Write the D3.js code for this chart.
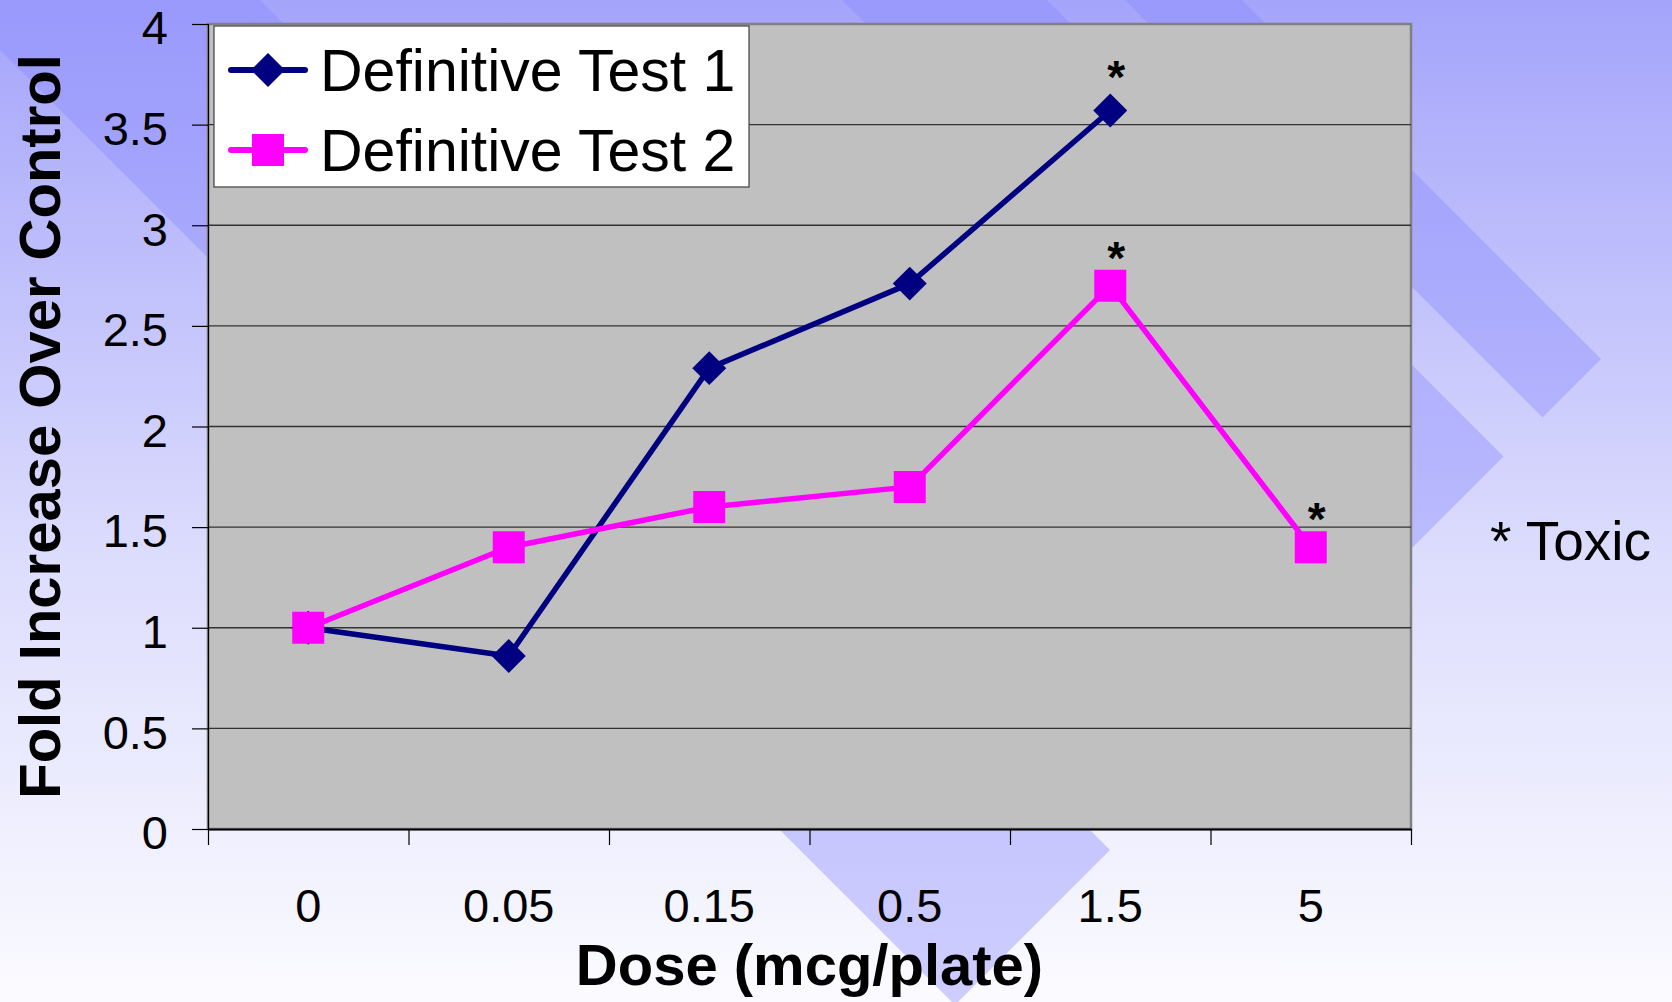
<!DOCTYPE html>
<html>
<head>
<meta charset="utf-8">
<script src="https://cdn.jsdelivr.net/npm/d3@7"></script>
<style>
  html, body { margin: 0; padding: 0; background: #fbfbff; }
  svg { display: block; }
  text { font-family: "Liberation Sans", Arial, Helvetica, sans-serif; fill: #000; }
</style>
</head>
<body>
<svg id="chart" width="1672" height="1002"></svg>
<script>
// Dose categories (mcg/plate)
const doses = ["0", "0.05", "0.15", "0.5", "1.5", "5"];
// Fold increase over control for each test (null = not tested)
const test1 = [1.0, 0.86, 2.29, 2.71, 3.57, null];
const test2 = [1.0, 1.4, 1.6, 1.7, 2.7, 1.4];
// Doses flagged as toxic in each test
const toxic1 = [false, false, false, false, true, false];
const toxic2 = [false, false, false, false, true, true];
const seriesNames = ["Definitive Test 1", "Definitive Test 2"];
const yTicks = [0, 0.5, 1, 1.5, 2, 2.5, 3, 3.5, 4];
const yTickLabels = ["0", "0.5", "1", "1.5", "2", "2.5", "3", "3.5", "4"];

const W = 1672, H = 1002;
const plot = { left: 208, right: 1411, top: 24, bottom: 829 };
const svg = d3.select("#chart");
const defs = svg.append("defs");

// ---- slide background: vertical periwinkle-to-white blend with diagonal bands ----
const grad = defs.append("linearGradient")
  .attr("id", "bg").attr("x1", 0).attr("y1", 0).attr("x2", 0).attr("y2", 1);
grad.append("stop").attr("offset", 0).attr("stop-color", "#a4a4fb");
grad.append("stop").attr("offset", 0.55).attr("stop-color", "#dcdcfd");
grad.append("stop").attr("offset", 1).attr("stop-color", "#fbfbff");
svg.append("rect").attr("width", W).attr("height", H).attr("fill", "url(#bg)");

// 45-degree bands (lines y - x = c) all cut off square along x + y = END
const END = 1960;
const bands = [[-260, 50], [-1047, -842], [-1242, -1125]];
svg.append("g").selectAll("polygon").data(bands).join("polygon")
  .attr("points", ([c1, c2]) => {
    const far = -2000;
    return [
      [far, far + c2],
      [(END - c2) / 2, (END + c2) / 2],
      [(END - c1) / 2, (END + c1) / 2],
      [far, far + c1]
    ].map(p => p.join(",")).join(" ");
  })
  .attr("fill", "#8a8aff")
  .attr("fill-opacity", 0.4);

// ---- scales ----
const x = d3.scaleBand().domain(doses).range([plot.left, plot.right]).padding(0);
const xc = d => x(d) + x.bandwidth() / 2;
const xEdge = d3.scaleLinear().domain([0, doses.length]).range([plot.left, plot.right]);
const y = d3.scaleLinear().domain([0, 4]).range([plot.bottom, plot.top]);

// ---- plot area ----
svg.append("rect")
  .attr("x", plot.left).attr("y", plot.top)
  .attr("width", plot.right - plot.left).attr("height", plot.bottom - plot.top)
  .attr("fill", "#c0c0c0")
  .attr("stroke", "#808080").attr("stroke-width", 2.5);

// horizontal gridlines
svg.append("g").selectAll("line").data(yTicks.filter(v => v > 0 && v < 4)).join("line")
  .attr("x1", plot.left).attr("x2", plot.right)
  .attr("y1", d => y(d)).attr("y2", d => y(d))
  .attr("stroke", "#333").attr("stroke-width", 1.4);

// y axis
const yAxis = svg.append("g")
  .attr("transform", `translate(${plot.left},0)`)
  .call(d3.axisLeft(y).tickValues(yTicks)
    .tickFormat((d, i) => yTickLabels[i])
    .tickSize(16).tickPadding(24));
yAxis.select(".domain").attr("stroke", "#000").attr("stroke-width", 1.2);
yAxis.selectAll(".tick line").attr("stroke", "#000").attr("stroke-width", 1.2);
yAxis.selectAll(".tick text")
  .attr("dy", "0.42em")
  .style("font-family", "'Liberation Sans', Arial, sans-serif")
  .style("font-size", "47px").attr("fill", "#000");

// x axis: tick marks at category boundaries, labels at category centres
const xTicks = svg.append("g")
  .attr("transform", `translate(0,${plot.bottom})`)
  .call(d3.axisBottom(xEdge).tickValues(d3.range(doses.length + 1))
    .tickFormat("").tickSize(16).tickSizeOuter(0));
xTicks.select(".domain").attr("stroke", "#000").attr("stroke-width", 2.2);
xTicks.selectAll(".tick line").attr("stroke", "#000").attr("stroke-width", 1.2);

const xLabels = svg.append("g")
  .attr("transform", `translate(0,${plot.bottom})`)
  .call(d3.axisBottom(x).tickSize(0).tickPadding(60));
xLabels.select(".domain").remove();
xLabels.selectAll(".tick text")
  .style("font-family", "'Liberation Sans', Arial, sans-serif")
  .style("font-size", "47px").attr("fill", "#000");

// axis titles
svg.append("text")
  .attr("transform", `translate(60,${(plot.top + plot.bottom) / 2}) rotate(-90)`)
  .attr("text-anchor", "middle")
  .style("font-size", "58px").style("font-weight", "bold")
  .text("Fold Increase Over Control");
svg.append("text")
  .attr("x", (plot.left + plot.right) / 2).attr("y", 985)
  .attr("text-anchor", "middle")
  .style("font-size", "58px").style("font-weight", "bold")
  .text("Dose (mcg/plate)");

// ---- series ----
const series = [
  { name: seriesNames[0], values: test1, toxic: toxic1, color: "#000080", symbol: d3.symbolSquare, size: 576, rotate: 45, starDy: -18 },
  { name: seriesNames[1], values: test2, toxic: toxic2, color: "#ff00ff", symbol: d3.symbolSquare, size: 1024, rotate: 0, starDy: -12 }
];

const line = d3.line()
  .defined(d => d.v != null)
  .x(d => xc(d.dose))
  .y(d => y(d.v));

series.forEach(s => {
  const pts = doses.map((dose, i) => ({ dose, v: s.values[i], toxic: s.toxic[i] }));
  const g = svg.append("g");
  g.append("path").datum(pts)
    .attr("d", line)
    .attr("fill", "none")
    .attr("stroke", s.color).attr("stroke-width", 5.5)
    .attr("stroke-linejoin", "round");
  const valid = pts.filter(d => d.v != null);
  g.selectAll("path.marker").data(valid).join("path")
    .attr("class", "marker")
    .attr("d", d3.symbol(s.symbol, s.size))
    .attr("transform", d => `translate(${xc(d.dose)},${y(d.v)}) rotate(${s.rotate})`)
    .attr("fill", s.color);
  // toxicity flags
  g.selectAll("text.star").data(valid.filter(d => d.toxic)).join("text")
    .attr("class", "star")
    .attr("x", d => xc(d.dose) + 6)
    .attr("y", d => y(d.v) + s.starDy)
    .attr("text-anchor", "middle")
    .style("font-size", "46px").style("font-weight", "bold")
    .text("*");
});

// ---- legend ----
const legend = svg.append("g");
legend.append("rect")
  .attr("x", 214).attr("y", 26).attr("width", 535).attr("height", 161)
  .attr("fill", "#fff").attr("stroke", "#404040").attr("stroke-width", 1.2);
series.forEach((s, i) => {
  const cy = 70 + i * 80;
  legend.append("line")
    .attr("x1", 231).attr("x2", 305).attr("y1", cy).attr("y2", cy)
    .attr("stroke", s.color).attr("stroke-width", 6).attr("stroke-linecap", "round");
  legend.append("path")
    .attr("d", d3.symbol(s.symbol, s.size))
    .attr("transform", `translate(268,${cy}) rotate(${s.rotate})`)
    .attr("fill", s.color);
  legend.append("text")
    .attr("x", 320).attr("y", cy + 21)
    .style("font-size", "59px")
    .text(s.name);
});

// toxicity note
svg.append("text")
  .attr("x", 1490).attr("y", 560)
  .style("font-size", "55px")
  .text("* Toxic");
</script>
</body>
</html>
